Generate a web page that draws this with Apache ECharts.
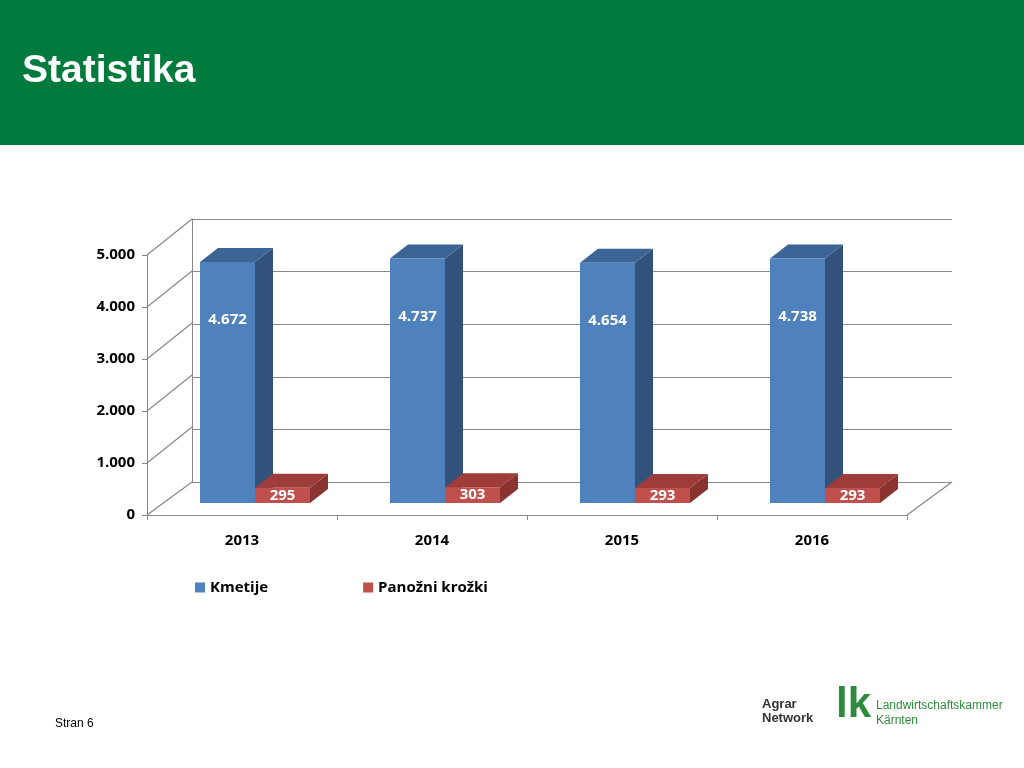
<!DOCTYPE html><html><head><meta charset="utf-8">
<script src="https://cdn.jsdelivr.net/npm/echarts@6/dist/echarts.min.js"></script>
<style>html,body{margin:0;padding:0;background:#fff}#c{width:1024px;height:768px}</style></head><body><div id="c"></div>
<script>
const categories=['2013','2014','2015','2016'];
const kmetije=[4672,4737,4654,4738];
const krozki=[295,303,293,293];
const yTicks=[0,1000,2000,3000,4000,5000];
const fmt=v=>String(v).replace(/\B(?=(\d{3})+(?!\d))/g,'.');
const DX=18,DY=-14,BW=55;
function bar3d(params,api,side,front,top,sideC){
  const c=api.coord([api.value(0),api.value(1)]);
  const b=api.coord([api.value(0),0]);
  const x0=side<0?c[0]-BW:c[0],x1=x0+BW,yt=c[1],yb=b[1];
  const v=api.value(1);
  const kids=[
    {type:'polygon',shape:{points:[[x1,yb],[x1+DX,yb+DY],[x1+DX,yt+DY],[x1,yt]]},style:{fill:sideC}},
    {type:'polygon',shape:{points:[[x0,yt],[x0+DX,yt+DY],[x1+DX,yt+DY],[x1,yt]]},style:{fill:top}},
    {type:'rect',shape:{x:x0,y:yt,width:BW,height:yb-yt},style:{fill:front}},
    {type:'text',style:{text:fmt(v),x:(x0+x1)/2,y:side<0?yt+58:(yt+yb)/2,align:'center',verticalAlign:'middle',fill:'#fff',font:'bold 15px "Open Sans", sans-serif'}}
  ];
  return {type:'group',children:kids};
}
const chart=echarts.init(document.getElementById('c'));
chart.setOption({
  animation:false,
  graphic:[
    {type:'rect',shape:{x:0,y:0,width:1024,height:145},style:{fill:'#007A3D'}},
    {type:'text',left:22,top:52,style:{text:'Statistika',fill:'#fff',font:'bold 39px Arial, "Liberation Sans", sans-serif'}},
    {type:'text',left:55,top:718,style:{text:'Stran 6',fill:'#000',font:'12px Arial, "Liberation Sans", sans-serif'}},
    {type:'text',left:762,top:697,style:{text:'Agrar\nNetwork',fill:'#333',font:'bold 13px Arial, sans-serif',lineHeight:14}},
    {type:'text',left:836,top:684,style:{text:'lk',fill:'#2E8B3D',font:'bold 42px Arial, sans-serif'}},
    {type:'text',left:876,top:698,style:{text:'Landwirtschaftskammer\nKärnten',fill:'#2E8B3D',font:'12px Arial, sans-serif',lineHeight:15}}
  ],
  legend:{top:575,left:190,itemGap:95,itemWidth:10,itemHeight:10,icon:'rect',textStyle:{fontSize:15,fontWeight:'bold',fontFamily:'"Open Sans", sans-serif',color:'#000'},
    data:['Kmetije','Panožni krožki']},
  grid:[
    {left:147,width:760,top:255,height:260},
    {left:192,width:760,top:219,height:263},
    {left:160,width:760,top:245,height:258}
  ],
  xAxis:[
    {gridIndex:0,type:'category',data:categories,axisLine:{lineStyle:{color:'#888'}},axisTick:{show:true,length:5,lineStyle:{color:'#888'}},axisLabel:{fontSize:15,fontWeight:'bold',fontFamily:'"Open Sans", sans-serif',color:'#000',margin:18}},
    {gridIndex:1,type:'category',data:categories,show:false},
    {gridIndex:2,type:'category',data:categories,show:false}
  ],
  yAxis:[
    {gridIndex:0,type:'value',min:0,max:5000,interval:1000,axisLine:{show:true,lineStyle:{color:'#888'}},axisTick:{show:true,length:5,lineStyle:{color:'#888'}},splitLine:{show:false},
      axisLabel:{formatter:fmt,fontSize:15,fontWeight:'bold',fontFamily:'"Open Sans", sans-serif',color:'#000',margin:12}},
    {gridIndex:1,type:'value',min:0,max:5000,interval:1000,axisLine:{show:true,lineStyle:{color:'#888'}},axisLabel:{show:false},axisTick:{show:false},splitLine:{lineStyle:{color:'#888',width:1.2}}},
    {gridIndex:2,type:'value',min:0,max:5000,show:false}
  ],
  series:[
    {type:'custom',xAxisIndex:0,yAxisIndex:0,silent:true,data:yTicks.map(v=>[0,v]),
      renderItem:(p,api)=>{const v=api.value(1);const y=api.coord([0,v])[1];const x=147;
        const kids=[{type:'line',shape:{x1:x,y1:y,x2:x+45,y2:y-36+(v===0?3:0)},style:{stroke:'#888',lineWidth:1.2}}];
        if(v===0)kids.push({type:'line',shape:{x1:907,y1:y,x2:952,y2:y-33},style:{stroke:'#888',lineWidth:1.2}});
        return {type:'group',children:kids};}},
    {name:'Kmetije',type:'custom',xAxisIndex:2,yAxisIndex:2,itemStyle:{color:'#4F81BD'},data:kmetije.map((v,i)=>[i,v]),
      renderItem:(p,api)=>bar3d(p,api,-1,'#4F81BD','#3C6494','#32527C')},
    {name:'Panožni krožki',type:'custom',xAxisIndex:2,yAxisIndex:2,itemStyle:{color:'#C0504D'},data:krozki.map((v,i)=>[i,v]),
      renderItem:(p,api)=>bar3d(p,api,1,'#C0504D','#9E3C39','#8A3331')}
  ]
});
</script></body></html>
